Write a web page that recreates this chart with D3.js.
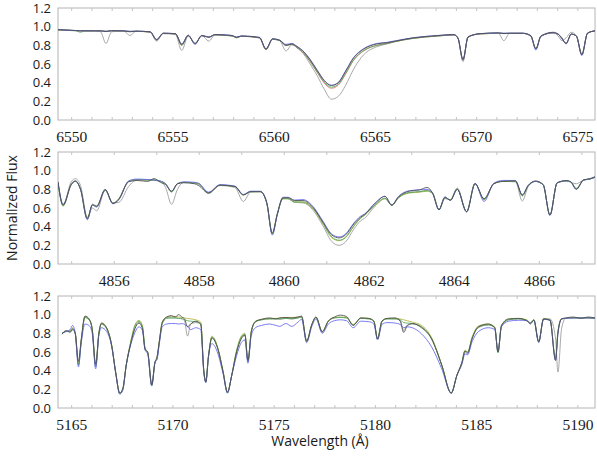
<!DOCTYPE html>
<html>
<head>
<meta charset="utf-8">
<script src="https://cdn.jsdelivr.net/npm/d3@7"></script>
<style>
  html, body { margin: 0; padding: 0; background: #fff; }
  svg { display: block; }
  .xlab text { font-family: "Liberation Serif", "DejaVu Serif", serif; font-size: 15.5px; fill: #1a1a1a; }
  .ylab text { font-family: "Open Sans", "Liberation Sans", sans-serif; font-size: 13px; fill: #1a1a1a; }
  .title { font-family: "Open Sans", "Liberation Sans", sans-serif; font-size: 14px; fill: #1a1a1a; }
</style>
</head>
<body>
<svg id="chart" width="597" height="457"></svg>
<script>
// ---------- Panel 1: H-alpha region ----------
const p1Ticks = [6550, 6555, 6560, 6565, 6570, 6575];
const p1Wave = [6549.35,6550.0,6550.25,6550.45,6550.65,6551.2,6551.45,6551.72,6552.0,6552.6,
  6552.9,6553.2,6553.9,6554.22,6554.55,6555.15,6555.46,6555.78,6556.12,6556.45,
  6556.8,6557.1,6557.7,6557.95,6558.17,6558.4,6559.3,6559.62,6559.95,6560.3,
  6560.61,6560.9,6561.15,6561.5,6561.8,6562.15,6562.5,6562.85,6563.2,6563.55,
  6563.95,6564.45,6565.1,6565.6,6566.0,6566.9,6568.1,6568.9,6569.1,6569.35,
  6569.6,6570.2,6571.1,6571.37,6571.65,6572.3,6572.7,6572.95,6573.2,6573.8,
  6574.05,6574.24,6574.44,6574.7,6574.95,6575.22,6575.5,6575.87];
const p1Obs = [.968,.962,.958,.955,.956,.955,.955,.948,.957,.955,
  .945,.952,.945,.86,.93,.925,.81,.905,.82,.905,
  .885,.915,.91,.905,.885,.90,.885,.76,.87,.855,
  .80,.815,.787,.727,.645,.53,.42,.37,.40,.52,
  .665,.76,.815,.828,.845,.88,.905,.915,.88,.65,
  .89,.925,.935,.925,.93,.93,.905,.765,.90,.94,
  .92,.88,.82,.92,.90,.70,.93,.955];
const p1Gray = [.965,.96,.958,.957,.956,.955,.945,.82,.945,.953,
  .905,.95,.94,.845,.925,.915,.745,.90,.815,.905,
  .845,.912,.905,.90,.885,.897,.88,.755,.865,.85,
  .74,.805,.775,.70,.60,.475,.33,.223,.255,.37,
  .545,.70,.785,.815,.84,.877,.90,.912,.875,.625,
  .885,.925,.928,.85,.928,.928,.90,.76,.90,.935,
  .90,.85,.88,.94,.90,.70,.93,.955];
const p1Blue = [.968,.96,.958,.956,.956,.955,.955,.95,.957,.955,
  .95,.952,.945,.865,.93,.925,.815,.91,.81,.905,
  .89,.915,.91,.905,.89,.90,.885,.765,.87,.855,
  .81,.82,.79,.73,.65,.535,.425,.372,.405,.525,
  .67,.765,.82,.832,.848,.882,.905,.915,.88,.645,
  .89,.925,.932,.93,.93,.93,.90,.75,.895,.935,
  .92,.87,.815,.92,.90,.69,.93,.955];
const p1Green = [.965,.958,.955,.94,.952,.955,.955,.95,.955,.953,
  .95,.95,.943,.86,.928,.923,.80,.905,.82,.903,
  .89,.912,.905,.90,.88,.897,.88,.755,.865,.85,
  .80,.81,.778,.715,.63,.515,.405,.352,.385,.50,
  .645,.745,.80,.82,.84,.875,.90,.912,.878,.64,
  .89,.922,.928,.928,.928,.928,.90,.76,.90,.933,
  .92,.87,.82,.92,.90,.70,.93,.955];
const p1Red = [.965,.96,.958,.955,.956,.955,.955,.95,.955,.953,
  .948,.95,.943,.855,.928,.923,.80,.905,.82,.903,
  .89,.912,.905,.90,.885,.897,.88,.755,.865,.85,
  .80,.81,.775,.71,.625,.51,.395,.34,.375,.49,
  .64,.74,.80,.82,.84,.875,.90,.912,.878,.64,
  .89,.922,.928,.928,.928,.928,.90,.76,.90,.933,
  .92,.87,.82,.92,.90,.70,.93,.955];

// ---------- Panel 2: H-beta region ----------
const p2Ticks = [4856, 4858, 4860, 4862, 4864, 4866];
const p2Wave = [4854.69,4854.81,4855.0,4855.1,4855.22,4855.38,4855.5,4855.6,4855.8,4855.98,
  4856.12,4856.35,4856.55,4856.8,4856.95,4857.1,4857.22,4857.36,4857.5,4857.65,
  4857.9,4858.0,4858.23,4858.5,4858.85,4859.05,4859.22,4859.45,4859.6,4859.73,
  4859.85,4859.98,4860.1,4860.25,4860.45,4860.7,4860.92,4861.13,4861.3,4861.45,
  4861.65,4861.8,4861.9,4862.15,4862.38,4862.54,4862.7,4862.95,4863.2,4863.37,
  4863.5,4863.65,4863.79,4863.92,4864.08,4864.3,4864.5,4864.71,4864.94,4865.15,
  4865.45,4865.61,4865.75,4865.92,4866.1,4866.26,4866.43,4866.65,4866.75,4866.88,
  4867.05,4867.2,4867.32];
const p2Obs = [.88,.63,.85,.885,.80,.49,.64,.62,.80,.65,
  .69,.88,.895,.885,.915,.875,.85,.78,.86,.87,
  .86,.84,.76,.845,.83,.74,.775,.775,.66,.33,
  .54,.71,.71,.68,.68,.60,.45,.31,.28,.31,
  .43,.50,.53,.65,.725,.63,.72,.78,.795,.82,
  .76,.58,.71,.685,.80,.56,.86,.70,.86,.885,
  .89,.74,.84,.89,.85,.525,.87,.895,.88,.80,
  .90,.915,.935];
const p2Gray = [.87,.63,.88,.915,.84,.50,.60,.57,.79,.655,
  .66,.83,.90,.90,.895,.885,.82,.64,.80,.875,
  .865,.855,.755,.84,.82,.67,.77,.775,.65,.33,
  .54,.70,.70,.66,.655,.57,.41,.24,.20,.235,
  .375,.46,.49,.62,.70,.63,.715,.765,.775,.79,
  .76,.585,.70,.69,.815,.56,.865,.695,.86,.885,
  .88,.675,.83,.885,.85,.525,.87,.89,.875,.86,
  .90,.91,.93];
const p2Blue = [.88,.64,.85,.89,.80,.475,.63,.61,.795,.645,
  .69,.89,.91,.905,.90,.89,.86,.78,.86,.88,
  .875,.865,.77,.85,.835,.745,.78,.78,.655,.31,
  .53,.715,.715,.685,.69,.61,.46,.32,.29,.32,
  .44,.51,.535,.655,.725,.635,.725,.785,.795,.80,
  .76,.58,.72,.68,.80,.56,.865,.67,.865,.895,
  .895,.74,.845,.885,.85,.52,.87,.89,.88,.80,
  .90,.91,.93];
const p2Green = [.87,.62,.85,.89,.80,.48,.63,.615,.79,.65,
  .70,.885,.905,.90,.90,.885,.86,.77,.86,.875,
  .87,.86,.765,.845,.83,.74,.775,.775,.65,.32,
  .54,.70,.70,.665,.665,.59,.44,.29,.255,.285,
  .41,.49,.525,.635,.705,.63,.71,.765,.775,.785,
  .755,.585,.715,.685,.805,.56,.86,.69,.86,.885,
  .885,.73,.84,.885,.85,.525,.87,.89,.88,.81,
  .90,.91,.93];
const p2Olive = [.87,.63,.86,.89,.80,.48,.63,.62,.79,.65,
  .70,.885,.905,.90,.90,.885,.86,.775,.86,.875,
  .87,.86,.765,.845,.83,.74,.775,.775,.65,.33,
  .54,.70,.70,.665,.66,.585,.43,.28,.25,.28,
  .405,.485,.52,.63,.70,.63,.71,.76,.77,.78,
  .755,.585,.715,.685,.805,.56,.86,.69,.86,.885,
  .885,.73,.84,.885,.85,.525,.87,.89,.88,.81,
  .90,.91,.93];

// ---------- Panel 3: Mg b region ----------
const p3Ticks = [5165, 5170, 5175, 5180, 5185, 5190];
const p3Wave = [5164.55,5164.75,5164.95,5165.07,5165.2,5165.36,5165.5,5165.68,5165.9,5166.04,
  5166.21,5166.37,5166.5,5166.75,5167.0,5167.2,5167.4,5167.55,5167.72,5167.92,
  5168.15,5168.35,5168.52,5168.65,5168.78,5168.98,5169.14,5169.24,5169.35,5169.5,
  5169.72,5169.95,5170.15,5170.3,5170.5,5170.6,5170.75,5170.9,5171.15,5171.4,
  5171.55,5171.65,5171.78,5171.95,5172.25,5172.5,5172.72,5172.93,5173.17,5173.4,
  5173.58,5173.73,5173.9,5174.1,5174.4,5174.8,5175.1,5175.3,5175.6,5175.9,
  5176.2,5176.38,5176.63,5176.88,5177.09,5177.4,5177.7,5178.0,5178.3,5178.6,
  5178.93,5179.3,5179.7,5179.95,5180.13,5180.35,5180.6,5181.0,5181.25,5181.42,
  5181.6,5181.85,5182.3,5182.8,5183.3,5183.77,5184.05,5184.3,5184.45,5184.58,
  5184.8,5185.12,5185.6,5185.92,5186.08,5186.25,5186.6,5187.1,5187.5,5187.68,
  5187.85,5188.09,5188.33,5188.65,5188.92,5189.04,5189.22,5189.42,5189.8,5190.2,
  5190.5,5190.87];
const p3Obs = [.79,.83,.81,.84,.80,.50,.74,.985,.95,.84,
  .47,.80,.91,.86,.67,.38,.16,.21,.46,.67,
  .85,.91,.85,.63,.60,.25,.49,.55,.71,.92,
  .975,.99,.975,1.0,.97,.955,.87,.90,.93,.90,
  .40,.28,.55,.75,.63,.39,.17,.35,.60,.74,
  .78,.51,.82,.925,.95,.965,.955,.965,.97,.965,
  .975,.985,.715,.89,.975,.815,.93,.975,.995,.98,
  .885,.965,.96,.93,.74,.93,.96,.965,.93,.81,
  .88,.905,.86,.74,.46,.16,.35,.49,.61,.59,
  .74,.87,.90,.86,.60,.88,.955,.96,.935,.90,
  .94,.71,.955,.94,.51,.80,.955,.965,.975,.96,
  .975,.965];
const p3Gray = [.80,.82,.82,.85,.80,.47,.73,.97,.94,.84,
  .45,.80,.90,.85,.67,.38,.16,.20,.46,.68,
  .86,.92,.86,.63,.59,.24,.49,.53,.70,.90,
  .96,.965,.965,.96,.955,.93,.77,.90,.915,.90,
  .40,.28,.55,.75,.63,.39,.17,.35,.60,.75,
  .78,.51,.82,.92,.945,.955,.955,.95,.96,.955,
  .965,.975,.72,.89,.97,.82,.93,.965,.97,.965,
  .89,.96,.955,.93,.74,.93,.955,.955,.94,.83,
  .89,.90,.87,.74,.46,.16,.35,.48,.60,.58,
  .75,.86,.89,.86,.60,.88,.945,.955,.94,.91,
  .945,.71,.955,.955,.75,.385,.85,.96,.965,.965,
  .965,.962];
const p3Blue = [.80,.82,.84,.885,.80,.44,.70,.90,.88,.80,
  .42,.78,.86,.82,.66,.37,.15,.19,.46,.66,
  .81,.87,.83,.62,.58,.24,.49,.52,.68,.87,
  .90,.905,.905,.90,.905,.895,.875,.84,.86,.84,
  .38,.27,.55,.69,.58,.37,.16,.35,.56,.70,
  .73,.48,.78,.86,.885,.90,.885,.875,.905,.875,
  .92,.95,.70,.87,.955,.80,.90,.935,.945,.935,
  .86,.93,.925,.90,.73,.895,.915,.91,.895,.86,
  .87,.86,.795,.655,.42,.16,.35,.47,.58,.57,
  .71,.82,.86,.84,.61,.87,.93,.94,.935,.91,
  .94,.70,.95,.94,.51,.80,.955,.96,.965,.965,
  .965,.962];
const p3Green = [.80,.82,.82,.85,.80,.46,.72,.97,.94,.84,
  .44,.80,.90,.85,.67,.38,.15,.20,.46,.68,
  .88,.93,.87,.64,.59,.24,.49,.53,.70,.91,
  .965,.965,.965,.96,.955,.945,.935,.93,.925,.90,
  .40,.28,.55,.76,.63,.39,.16,.35,.61,.76,
  .79,.50,.82,.925,.945,.955,.955,.955,.96,.955,
  .965,.975,.715,.89,.97,.815,.93,.965,.97,.965,
  .89,.96,.955,.93,.74,.93,.955,.955,.945,.915,
  .91,.905,.87,.745,.46,.16,.35,.49,.61,.60,
  .75,.87,.89,.86,.59,.88,.945,.955,.94,.91,
  .945,.71,.955,.94,.53,.82,.955,.96,.965,.965,
  .965,.962];
const p3Olive = [.80,.82,.83,.86,.81,.47,.73,.98,.95,.85,
  .45,.81,.91,.86,.68,.38,.16,.20,.46,.69,
  .89,.94,.88,.64,.60,.24,.49,.54,.71,.92,
  .975,.98,.98,.975,.97,.965,.96,.955,.945,.92,
  .40,.28,.55,.77,.64,.40,.17,.35,.62,.77,
  .80,.51,.83,.93,.95,.96,.96,.965,.97,.97,
  .975,.98,.72,.895,.975,.82,.935,.97,.975,.97,
  .895,.965,.96,.93,.745,.93,.96,.96,.955,.945,
  .935,.92,.885,.755,.465,.16,.35,.49,.62,.60,
  .76,.88,.90,.87,.60,.89,.95,.96,.945,.915,
  .95,.71,.96,.945,.53,.82,.955,.96,.965,.965,
  .965,.962];

// ---------- Layout and drawing ----------
const svg = d3.select("#chart");
const plotLeft = 58, plotRight = 595;

const colors = { obs: "#4a4a4a", gray: "#989898", blue: "#6464f0", green: "#4fa858", red: "#e07070", olive: "#b4b43e" };

const panels = [
  { top: 8, height: 112, domain: [6549.35, 6575.87], ticks: p1Ticks, wave: p1Wave,
    series: [[p1Gray, colors.gray], [p1Red, colors.red], [p1Green, colors.green], [p1Blue, colors.blue], [p1Obs, colors.obs]] },
  { top: 152, height: 112, domain: [4854.69, 4867.32], ticks: p2Ticks, wave: p2Wave,
    series: [[p2Gray, colors.gray], [p2Olive, colors.olive], [p2Green, colors.green], [p2Blue, colors.blue], [p2Obs, colors.obs]] },
  { top: 296, height: 112, domain: [5164.35, 5190.87], ticks: p3Ticks, wave: p3Wave,
    series: [[p3Gray, colors.gray], [p3Olive, colors.olive], [p3Green, colors.green], [p3Blue, colors.blue], [p3Obs, colors.obs]] }
];

const yTicks = [0, 0.2, 0.4, 0.6, 0.8, 1.0, 1.2];

panels.forEach((p, i) => {
  const x = d3.scaleLinear().domain(p.domain).range([plotLeft, plotRight]);
  const y = d3.scaleLinear().domain([0, 1.2]).range([p.top + p.height, p.top]);
  const g = svg.append("g");

  const clipId = "clip" + i;
  svg.append("clipPath").attr("id", clipId)
    .append("rect").attr("x", plotLeft).attr("y", p.top)
    .attr("width", plotRight - plotLeft).attr("height", p.height);

  // frame
  g.append("rect")
    .attr("x", plotLeft).attr("y", p.top)
    .attr("width", plotRight - plotLeft).attr("height", p.height)
    .attr("fill", "none").attr("stroke", "#b4b4b4").attr("stroke-width", 1);

  // minor ticks (every 1 Å) on top and bottom edges, pointing inward
  const minor = d3.range(Math.ceil(p.domain[0]), p.domain[1], 1);
  g.append("g").call(d3.axisBottom(x).tickValues(minor).tickSize(-3).tickFormat(""))
    .attr("transform", `translate(0,${p.top + p.height})`)
    .call(a => a.select(".domain").remove())
    .call(a => a.selectAll("line").attr("stroke", "#c4c4c4"));
  g.append("g").call(d3.axisTop(x).tickValues(minor).tickSize(-3).tickFormat(""))
    .attr("transform", `translate(0,${p.top})`)
    .call(a => a.select(".domain").remove())
    .call(a => a.selectAll("line").attr("stroke", "#c4c4c4"));

  // x tick labels
  g.append("g").attr("class", "xlab")
    .call(d3.axisBottom(x).tickValues(p.ticks).tickSize(0).tickPadding(11).tickFormat(d3.format("d")))
    .attr("transform", `translate(0,${p.top + p.height})`)
    .attr("font-family", null).attr("font-size", null)
    .call(a => a.select(".domain").remove());

  // y tick labels
  g.append("g").attr("class", "ylab")
    .call(d3.axisLeft(y).tickValues(yTicks).tickSize(0).tickPadding(7).tickFormat(d3.format(".1f")))
    .attr("transform", `translate(${plotLeft},0)`)
    .attr("font-family", null).attr("font-size", null)
    .call(a => a.select(".domain").remove());

  // spectra
  const lines = g.append("g").attr("clip-path", `url(#${clipId})`);
  p.series.forEach(([vals, color]) => {
    const line = d3.line()
      .x((d, j) => x(p.wave[j]))
      .y(d => y(d))
      .curve(d3.curveMonotoneX);
    lines.append("path")
      .datum(vals)
      .attr("d", line)
      .attr("fill", "none")
      .attr("stroke", color)
      .attr("stroke-width", 0.85)
      .attr("stroke-linejoin", "round");
  });
});

// axis titles
svg.append("text").attr("class", "title")
  .attr("transform", "translate(17,208) rotate(-90)")
  .attr("text-anchor", "middle")
  .text("Normalized Flux");

svg.append("text").attr("class", "title")
  .attr("x", 320).attr("y", 446)
  .attr("text-anchor", "middle")
  .text("Wavelength (Å)");
</script>
</body>
</html>
